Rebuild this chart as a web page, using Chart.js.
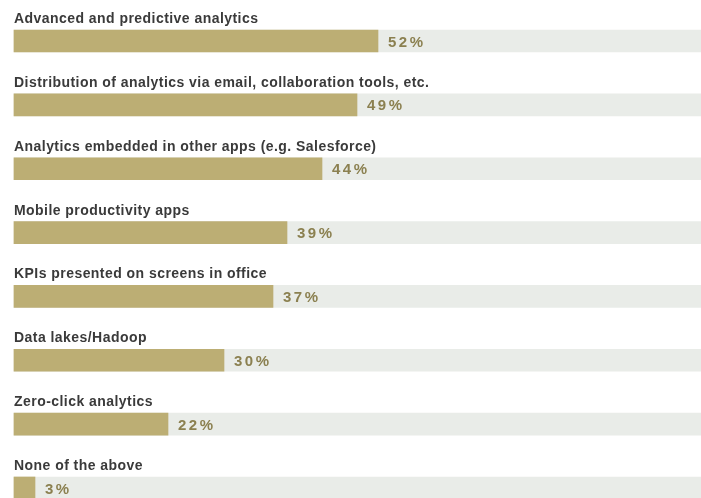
<!DOCTYPE html>
<html>
<head>
<meta charset="utf-8">
<script src="https://cdn.jsdelivr.net/npm/chart.js@4"></script>
<style>
    html, body { margin: 0; padding: 0; background: #fff; }
    #wrap { position: relative; width: 701px; height: 498px; }
</style>
</head>
<body>
<div id="wrap"><canvas id="chart"></canvas></div>
<script>
const categories = [
    'Advanced and predictive analytics',
    'Distribution of analytics via email, collaboration tools, etc.',
    'Analytics embedded in other apps (e.g. Salesforce)',
    'Mobile productivity apps',
    'KPIs presented on screens in office',
    'Data lakes/Hadoop',
    'Zero-click analytics',
    'None of the above'
];
const shares = [52, 49, 44, 39, 37, 30, 22, 3];
const track = categories.map(() => 100);

const GOLD = '#bcae74';
const TRACK = '#e9ece8';

// category name above each bar, percentage just after the bar end
const barLabels = {
    id: 'barLabels',
    afterDatasetsDraw(chart) {
        const ctx = chart.ctx;
        const meta = chart.getDatasetMeta(0);
        const x = chart.scales.x;
        ctx.save();
        meta.data.forEach((bar, i) => {
            const top = bar.y - bar.height / 2;
            ctx.letterSpacing = '0.45px';
            ctx.font = 'bold 14px "Liberation Sans", Arial, sans-serif';
            ctx.fillStyle = '#3a3a3a';
            ctx.textAlign = 'left';
            ctx.textBaseline = 'alphabetic';
            ctx.fillText(categories[i], x.getPixelForValue(0), top - 7);

            ctx.letterSpacing = '2.5px';
            ctx.font = 'bold 15px "Liberation Sans", Arial, sans-serif';
            ctx.fillStyle = '#8b8050';
            ctx.textBaseline = 'middle';
            ctx.fillText(shares[i] + '%', bar.x + 10, bar.y + 1.5);
        });
        ctx.restore();
    }
};

new Chart(document.getElementById('chart'), {
    type: 'bar',
    data: {
        labels: categories,
        datasets: [
            {
                data: shares,
                backgroundColor: GOLD,
                barThickness: 22,
                grouped: false,
                order: 0,
                clip: false
            },
            {
                data: track,
                backgroundColor: TRACK,
                barThickness: 22,
                grouped: false,
                order: 1,
                clip: false
            }
        ]
    },
    options: {
        indexAxis: 'y',
        responsive: true,
        maintainAspectRatio: false,
        animation: false,
        events: [],
        layout: {padding: {top: 41, bottom: 10, left: 14, right: 1}},
        plugins: {legend: {display: false}, tooltip: {enabled: false}},
        scales: {
            x: {display: false, min: 0, max: 98},
            y: {display: false, offset: false}
        }
    },
    plugins: [barLabels]
});
</script>
</body>
</html>
